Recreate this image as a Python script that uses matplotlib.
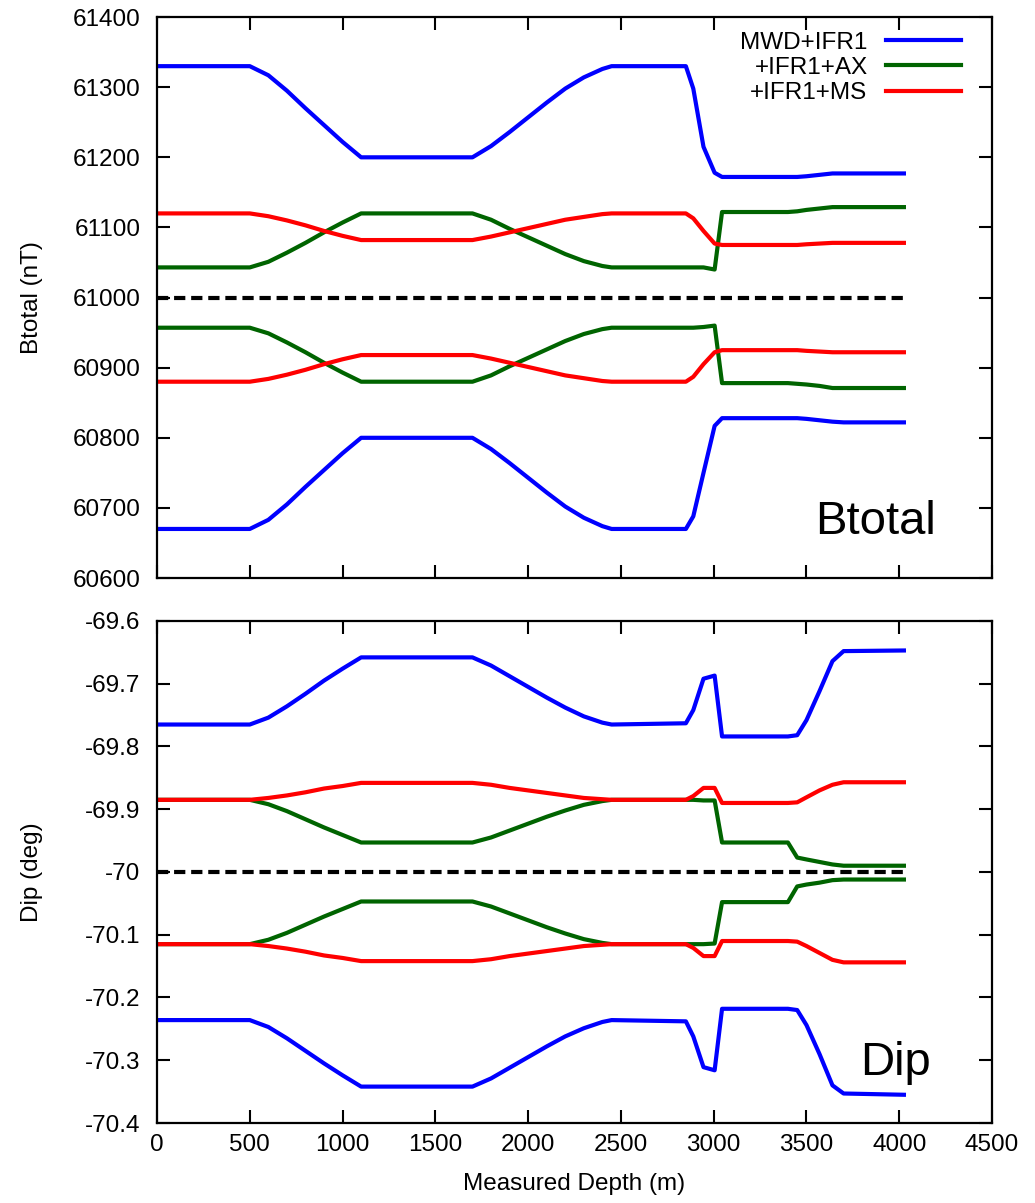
import matplotlib
matplotlib.use("Agg")
from matplotlib import pyplot as plt

plt.rcParams['font.family'] = ['Liberation Sans', 'DejaVu Sans']

# measured depth (m), shared by every series
md = [0, 500, 600, 700, 800, 900, 1000, 1100,
      1700, 1800, 1900, 2000, 2100, 2200, 2300, 2400, 2450,
      2850, 2890, 2945, 3005, 3045, 3400, 3450, 3500, 3570, 3640, 3700, 4025]

# Btotal (nT)
bt_mwd_hi = [61330, 61330, 61317, 61295, 61270, 61246, 61222, 61200,
             61200, 61216, 61236, 61257, 61278, 61298, 61314, 61326, 61330,
             61330, 61298, 61215, 61178, 61172, 61172, 61172, 61173, 61175, 61177, 61177, 61177]
bt_mwd_lo = [60670, 60670, 60683, 60705, 60730, 60754, 60778, 60800,
             60800, 60784, 60764, 60743, 60722, 60702, 60686, 60674, 60670,
             60670, 60688, 60750, 60817, 60828, 60828, 60828, 60827, 60825, 60823, 60822, 60822]
bt_ax_hi = [61043, 61043, 61051, 61064, 61078, 61093, 61107, 61120,
            61120, 61111, 61098, 61086, 61074, 61062, 61052, 61045, 61043,
            61043, 61043, 61043, 61040, 61122, 61122, 61123, 61125, 61127, 61129, 61129, 61129]
bt_ax_lo = [60957, 60957, 60949, 60936, 60922, 60907, 60893, 60880,
            60880, 60889, 60902, 60914, 60926, 60938, 60948, 60955, 60957,
            60957, 60957, 60958, 60960, 60878, 60878, 60877, 60876, 60874, 60871, 60871, 60871]
bt_ms_hi = [61120, 61120, 61116, 61110, 61103, 61095, 61088, 61082,
            61082, 61087, 61093, 61099, 61105, 61111, 61115, 61119, 61120,
            61120, 61113, 61095, 61077, 61075, 61075, 61075, 61076, 61077, 61078, 61078, 61078]
bt_ms_lo = [60880, 60880, 60884, 60890, 60897, 60905, 60912, 60918,
            60918, 60913, 60907, 60901, 60895, 60889, 60885, 60881, 60880,
            60880, 60887, 60905, 60922, 60925, 60925, 60925, 60924, 60923, 60922, 60922, 60922]
bt_ref = 61000

# Dip (deg)
dip_mwd_hi = [-69.765, -69.765, -69.754, -69.736, -69.716, -69.695, -69.676, -69.658,
              -69.658, -69.671, -69.688, -69.705, -69.722, -69.738, -69.752, -69.762, -69.765,
              -69.763, -69.742, -69.692, -69.687, -69.784, -69.784, -69.782, -69.758, -69.712, -69.664, -69.648, -69.647]
dip_mwd_lo = [-70.236, -70.236, -70.247, -70.265, -70.285, -70.305, -70.324, -70.342,
              -70.342, -70.329, -70.312, -70.295, -70.278, -70.262, -70.249, -70.239, -70.236,
              -70.238, -70.262, -70.311, -70.316, -70.218, -70.218, -70.220, -70.244, -70.290, -70.340, -70.353, -70.355]
dip_ax_hi = [-69.885, -69.885, -69.892, -69.903, -69.916, -69.929, -69.941, -69.953,
             -69.953, -69.945, -69.934, -69.923, -69.912, -69.902, -69.893, -69.887, -69.885,
             -69.885, -69.885, -69.886, -69.886, -69.953, -69.953, -69.977, -69.980, -69.984, -69.988, -69.990, -69.990]
dip_ax_lo = [-70.115, -70.115, -70.108, -70.097, -70.084, -70.071, -70.059, -70.047,
             -70.047, -70.055, -70.066, -70.077, -70.088, -70.098, -70.107, -70.113, -70.115,
             -70.115, -70.115, -70.115, -70.114, -70.048, -70.048, -70.023, -70.020, -70.017, -70.013, -70.012, -70.012]
dip_ms_hi = [-69.885, -69.885, -69.882, -69.878, -69.873, -69.867, -69.863, -69.858,
             -69.858, -69.861, -69.866, -69.870, -69.874, -69.878, -69.882, -69.884, -69.885,
             -69.885, -69.879, -69.866, -69.866, -69.890, -69.890, -69.889, -69.881, -69.870, -69.861, -69.857, -69.857]
dip_ms_lo = [-70.115, -70.115, -70.118, -70.122, -70.127, -70.133, -70.137, -70.142,
             -70.142, -70.139, -70.134, -70.130, -70.126, -70.122, -70.118, -70.116, -70.115,
             -70.115, -70.121, -70.134, -70.134, -70.110, -70.110, -70.111, -70.118, -70.129, -70.140, -70.144, -70.144]
dip_ref = -70.0

labels = ['MWD+IFR1', '+IFR1+AX', '+IFR1+MS']
colors = ['#0000ff', '#006400', '#ff0000']

FS = 17.5
LW = 3.0

fig = plt.figure(figsize=(10.35, 12.03), dpi=100)
ax1 = fig.add_axes([0.1517, 0.5195, 0.8068, 0.4663])
ax2 = fig.add_axes([0.1517, 0.0665, 0.8068, 0.4173])


def style(ax):
    for s in ax.spines.values():
        s.set_linewidth(1.6)
    ax.tick_params(direction='in', length=9.5, width=1.5, top=True, right=True,
                   labelsize=FS)
    ax.tick_params(axis='y', pad=12)
    ax.tick_params(axis='x', pad=8)
    ax.set_xlim(0, 4500)
    ax.set_xticks(range(0, 4501, 500))


# Btotal panel
hi_bt = [bt_mwd_hi, bt_ax_hi, bt_ms_hi]
lo_bt = [bt_mwd_lo, bt_ax_lo, bt_ms_lo]
for lab, c, hi, lo in zip(labels, colors, hi_bt, lo_bt):
    ax1.plot(md, hi, color=c, lw=LW, label=lab)
    ax1.plot(md, lo, color=c, lw=LW)
ax1.plot([0, 4025], [bt_ref, bt_ref], color='black', lw=LW, dashes=(2.7, 1.4))
style(ax1)
ax1.set_ylim(60600, 61400)
ax1.set_yticks(range(60600, 61401, 100))
ax1.tick_params(axis='x', labelbottom=False)
ax1.set_ylabel('Btotal (nT)', fontsize=FS)
ax1.yaxis.set_label_coords(-0.137, 0.5)
ax1.text(3545, 60663, 'Btotal', fontsize=34, ha='left', va='baseline')
ax1.legend(loc='upper right', bbox_to_anchor=(0.963, 0.974), frameon=False,
           markerfirst=False, fontsize=FS, handlelength=3.1, handletextpad=0.75,
           labelspacing=0.13, borderaxespad=0.0, borderpad=0.0)

# Dip panel
hi_dip = [dip_mwd_hi, dip_ax_hi, dip_ms_hi]
lo_dip = [dip_mwd_lo, dip_ax_lo, dip_ms_lo]
for c, hi, lo in zip(colors, hi_dip, lo_dip):
    ax2.plot(md, hi, color=c, lw=LW)
    ax2.plot(md, lo, color=c, lw=LW)
ax2.plot([0, 4025], [dip_ref, dip_ref], color='black', lw=LW, dashes=(2.7, 1.4))
style(ax2)
ax2.set_ylim(-70.4, -69.6)
ax2.set_yticks([-70.4, -70.3, -70.2, -70.1, -70.0, -69.9, -69.8, -69.7, -69.6])
ax2.set_yticklabels(['-70.4', '-70.3', '-70.2', '-70.1', '-70', '-69.9', '-69.8', '-69.7', '-69.6'])
ax2.set_ylabel('Dip (deg)', fontsize=FS)
ax2.yaxis.set_label_coords(-0.137, 0.5)
ax2.set_xlabel('Measured Depth (m)', fontsize=FS)
ax2.xaxis.set_label_coords(0.5, -0.1)
ax2.text(3790, -70.3235, 'Dip', fontsize=34, ha='left', va='baseline')

fig.savefig('out.png', dpi=100)
